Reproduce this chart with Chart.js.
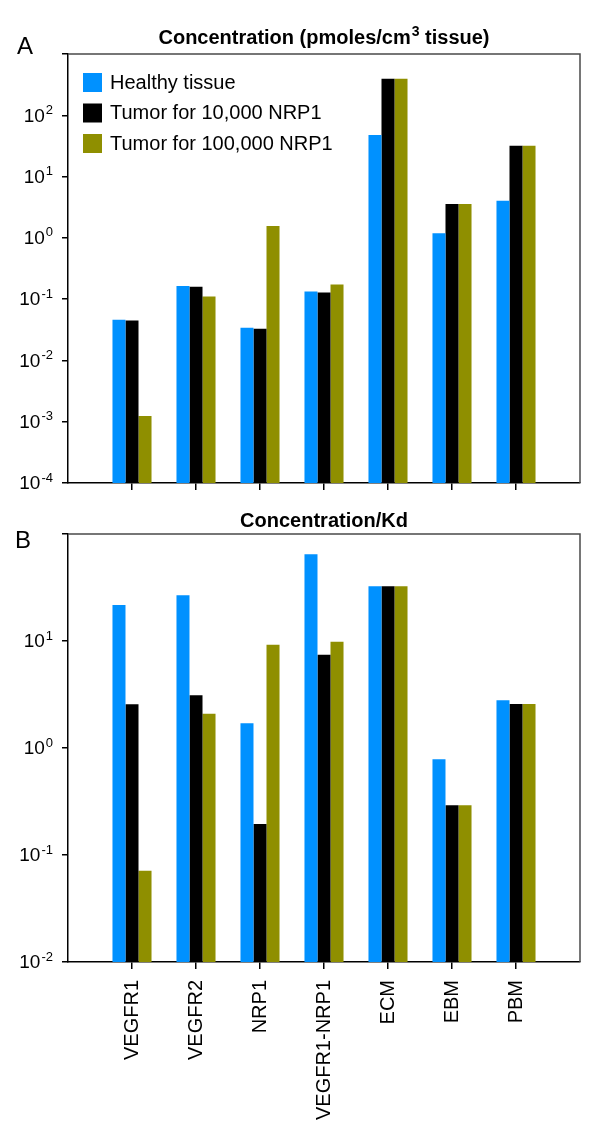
<!DOCTYPE html>
<html>
<head>
<meta charset="utf-8">
<script src="https://cdn.jsdelivr.net/npm/chart.js@4.4.1/dist/chart.umd.min.js"></script>
<style>
  html, body { margin: 0; padding: 0; background: #fff; }
  #wrap { position: relative; width: 600px; height: 1139px; }
  .panel { position: absolute; left: 0; }
</style>
</head>
<body>
<div id="wrap">
  <div class="panel" style="top:0"><canvas id="chartA" width="600" height="500"></canvas></div>
  <div class="panel" style="top:500px"><canvas id="chartB" width="600" height="639"></canvas></div>
</div>
<script>
const FONT = '"Liberation Sans", Arial, sans-serif';

// Categories and series
const categories = ['VEGFR1', 'VEGFR2', 'NRP1', 'VEGFR1-NRP1', 'ECM', 'EBM', 'PBM'];
const catPositions = [1, 2, 3, 4, 5, 6, 7];
const seriesNames = ['Healthy tissue', 'Tumor for 10,000 NRP1', 'Tumor for 100,000 NRP1'];
const seriesColors = ['#0091ff', '#000000', '#8f8f00'];

// Panel A - concentration (pmoles/cm3 tissue)
const healthyA   = [0.046, 0.164, 0.034, 0.133, 47.7, 1.19, 4.05];
const tumor10kA  = [0.045, 0.160, 0.033, 0.128, 396, 3.57, 31.9];
const tumor100kA = [0.00124, 0.110, 1.56, 0.173, 396, 3.57, 31.9];

// Panel B - concentration / Kd
const healthyB   = [21.7, 26.7, 1.70, 64.6, 32.4, 0.784, 2.79];
const tumor10kB  = [2.56, 3.11, 0.195, 7.45, 32.4, 0.291, 2.58];
const tumor100kB = [0.0713, 2.09, 9.24, 9.86, 32.4, 0.291, 2.58];

// Tick values and exponent labels (blank = unlabeled tick)
const yTicksA  = [1e-4, 1e-3, 1e-2, 1e-1, 1e0, 1e1, 1e2, 1e3];
const yLabelsA = ['-4', '-3', '-2', '-1', '0', '1', '2', ''];
const yTicksB  = [1e-2, 1e-1, 1e0, 1e1, 1e2];
const yLabelsB = ['-2', '-1', '0', '1', ''];

function toPoints(values) {
    return values.map((v, i) => ({ x: catPositions[i], y: v }));
}

function makeDatasets(series) {
    return series.map((vals, i) => ({
        label: seriesNames[i],
        data: toPoints(vals),
        backgroundColor: seriesColors[i],
        borderWidth: 0,
        barPercentage: 1.0,
        categoryPercentage: 0.61
    }));
}

// "10" with superscript exponent, right aligned at xRight
function drawPowerLabel(ctx, xRight, y, exp) {
    ctx.font = '19px ' + FONT;
    const baseW = ctx.measureText('10').width;
    ctx.font = '13px ' + FONT;
    const supW = ctx.measureText(exp).width;
    const x0 = xRight - supW - baseW - 1;
    ctx.textAlign = 'left';
    ctx.textBaseline = 'middle';
    ctx.font = '19px ' + FONT;
    ctx.fillText('10', x0, y + 1);
    ctx.font = '13px ' + FONT;
    ctx.fillText(exp, x0 + baseW + 1, y - 5);
}

const decorPlugin = {
    id: 'decor',
    afterDraw(chart, args, opts) {
        const ctx = chart.ctx;
        const area = chart.chartArea;
        const yScale = chart.scales.y;
        ctx.save();
        ctx.fillStyle = '#000';

        // top & right frame lines
        ctx.strokeStyle = '#4a4a4a';
        ctx.lineWidth = 1.5;
        ctx.beginPath();
        ctx.moveTo(area.left, area.top);
        ctx.lineTo(area.right, area.top);
        ctx.lineTo(area.right, area.bottom);
        ctx.stroke();

        // y tick labels
        opts.yTicks.forEach((v, i) => {
            if (opts.yLabels[i]) drawPowerLabel(ctx, 53, yScale.getPixelForValue(v), opts.yLabels[i]);
        });

        // panel letter
        ctx.font = '24px ' + FONT;
        ctx.textAlign = 'left';
        ctx.textBaseline = 'middle';
        ctx.fillText(opts.letter, opts.letterX, opts.letterY);

        // title (with optional superscript part)
        const cx = (area.left + area.right) / 2;
        const bold = 'bold 20px ' + FONT;
        const supBold = 'bold 14px ' + FONT;
        ctx.font = bold;
        const w1 = ctx.measureText(opts.title[0]).width;
        const w3 = opts.title[2] ? ctx.measureText(opts.title[2]).width : 0;
        ctx.font = supBold;
        const w2 = opts.title[1] ? ctx.measureText(opts.title[1]).width + 1 : 0;
        let x = cx - (w1 + w2 + w3) / 2;
        ctx.textBaseline = 'alphabetic';
        ctx.font = bold;
        ctx.fillText(opts.title[0], x, opts.titleY);
        x += w1;
        if (opts.title[1]) {
            ctx.font = supBold;
            ctx.fillText(opts.title[1], x + 1, opts.titleY - 8);
            x += w2;
        }
        if (opts.title[2]) {
            ctx.font = bold;
            ctx.fillText(opts.title[2], x, opts.titleY);
        }

        // legend inside plot area
        if (opts.legend) {
            ctx.textBaseline = 'middle';
            ctx.font = '20px ' + FONT;
            chart.data.datasets.forEach((ds, i) => {
                const cy = 82 + i * 30.5;
                ctx.fillStyle = ds.backgroundColor;
                ctx.fillRect(83, cy - 9, 19, 19);
                ctx.fillStyle = '#000';
                ctx.fillText(ds.label, 110, cy + 1);
            });
        }
        ctx.restore();
    }
};

function makeChart(canvasId, series, opts) {
    const ctx = document.getElementById(canvasId).getContext('2d');
    return new Chart(ctx, {
        type: 'bar',
        data: { datasets: makeDatasets(series) },
        plugins: [decorPlugin],
        options: {
            responsive: false,
            animation: false,
            devicePixelRatio: 1,
            layout: { padding: { top: opts.padTop, right: 20, left: 0, bottom: 0 } },
            plugins: {
                legend: { display: false },
                tooltip: { enabled: false },
                title: { display: false },
                decor: opts.decor
            },
            scales: {
                x: {
                    type: 'linear',
                    min: 0,
                    max: 8,
                    offset: false,
                    afterBuildTicks: (scale) => { scale.ticks = catPositions.map(v => ({ value: v })); },
                    afterFit: (scale) => { scale.height = opts.xHeight; },
                    grid: { display: true, offset: false, drawOnChartArea: false, drawTicks: true, tickLength: 7, color: '#000', lineWidth: 1.5 },
                    border: { display: true, color: '#000', width: 1.5 },
                    ticks: {
                        display: opts.showXLabels,
                        autoSkip: false,
                        minRotation: 90,
                        maxRotation: 90,
                        padding: 11,
                        color: '#000',
                        font: { family: FONT, size: 20 },
                        callback: (value, index) => categories[index]
                    }
                },
                y: {
                    type: 'logarithmic',
                    min: opts.yTicks[0],
                    max: opts.yTicks[opts.yTicks.length - 1],
                    afterBuildTicks: (scale) => { scale.ticks = opts.yTicks.map(v => ({ value: v })); },
                    afterFit: (scale) => { scale.width = 68; },
                    grid: { display: true, drawOnChartArea: false, drawTicks: true, tickLength: 6, color: '#000', lineWidth: 1.5 },
                    border: { display: true, color: '#000', width: 1.5 },
                    ticks: { display: false }
                }
            }
        }
    });
}

makeChart('chartA', [healthyA, tumor10kA, tumor100kA], {
    padTop: 54,
    xHeight: 17,
    showXLabels: false,
    yTicks: yTicksA,
    decor: {
        yTicks: yTicksA, yLabels: yLabelsA,
        letter: 'A', letterX: 17, letterY: 47,
        title: ['Concentration (pmoles/cm', '3', ' tissue)'], titleY: 44,
        legend: true
    }
});

makeChart('chartB', [healthyB, tumor10kB, tumor100kB], {
    padTop: 34,
    xHeight: 177,
    showXLabels: true,
    yTicks: yTicksB,
    decor: {
        yTicks: yTicksB, yLabels: yLabelsB,
        letter: 'B', letterX: 15, letterY: 41,
        title: ['Concentration/Kd'], titleY: 27,
        legend: false
    }
});
</script>
</body>
</html>
